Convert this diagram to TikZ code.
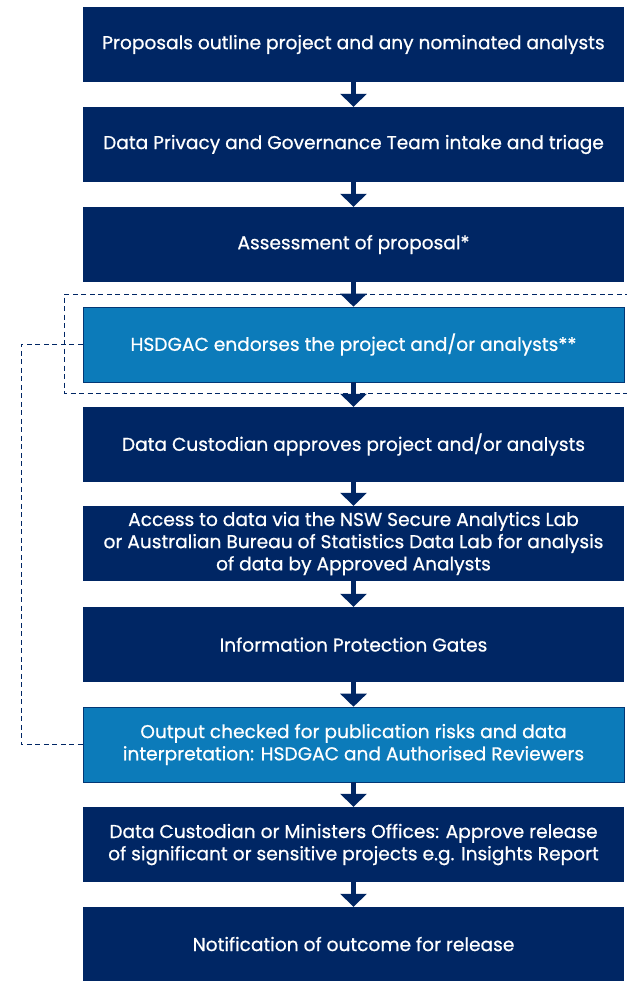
\documentclass[tikz,border=0pt]{standalone}
\usepackage{fontspec}
\setmainfont{Poppins}[FakeBold=0.7]
\usetikzlibrary{arrows.meta}
\definecolor{navy}{HTML}{002664}
\definecolor{lightblue}{HTML}{0C7BBA}
\tikzset{
  darkbox/.style={fill=navy, draw=none, text=white, minimum width=541pt, minimum height=75pt, inner sep=0pt, align=center, font=\fontsize{18.6}{22.2}\selectfont},
  lightbox/.style={darkbox, fill=lightblue, draw=navy!80!lightblue, line width=0.6pt},
  flowarrow/.style={draw=navy, line width=4.5pt, -{Triangle[width=26pt,length=13pt]}, shorten >=0pt},
  feedback/.style={draw=navy, line width=1pt, dash pattern=on 5pt off 3.5pt}
}
\begin{document}
\begin{tikzpicture}[x=1pt,y=-1pt]
\useasboundingbox (0,0) rectangle (626,981);
\fill[white] (0,0) rectangle (626,981);
\def\cx{353.5}
\node[darkbox]  (b1)  at (\cx,44.5)  {Proposals outline project and any nominated analysts};
\node[darkbox]  (b2)  at (\cx,144.5) {Data Privacy and Governance Team intake and triage};
\node[darkbox]  (b3)  at (\cx,244.5) {Assessment of proposal*};
\draw[feedback] (630,294) -- (64,294) -- (64,393) -- (630,393);
\node[lightbox] (b4)  at (\cx,344.5) {HSDGAC endorses the project and/or analysts**};
\node[darkbox]  (b5)  at (\cx,444.5) {Data Custodian approves project and/or analysts};
\node[darkbox]  (b6)  at (\cx,543.5) {Access to data via the NSW Secure Analytics Lab\\or Australian Bureau of Statistics Data Lab for analysis\\of data by Approved Analysts};
\node[darkbox]  (b7)  at (\cx,644.5) {Information Protection Gates};
\node[lightbox] (b8)  at (\cx,744.5) {Output checked for publication risks and data\\interpretation: HSDGAC and Authorised Reviewers};
\node[darkbox]  (b9)  at (\cx,844.5) {Data Custodian or Ministers Offices: Approve release\\of significant or sensitive projects e.g. Insights Report};
\node[darkbox, minimum height=74pt]  (b10) at (\cx,944) {Notification of outcome for release};
\foreach \a/\b in {b1/b2,b2/b3,b3/b4,b4/b5,b5/b6,b6/b7,b7/b8,b8/b9,b9/b10}
  \draw[flowarrow] (\a.south) -- (\b.north);
\coordinate (fa) at (21,344.5);
\coordinate (fb) at (21,744.5);
\draw[feedback] (b4.west) -- (fa) -- (fb) -- (b8.west);
\end{tikzpicture}
\end{document}
